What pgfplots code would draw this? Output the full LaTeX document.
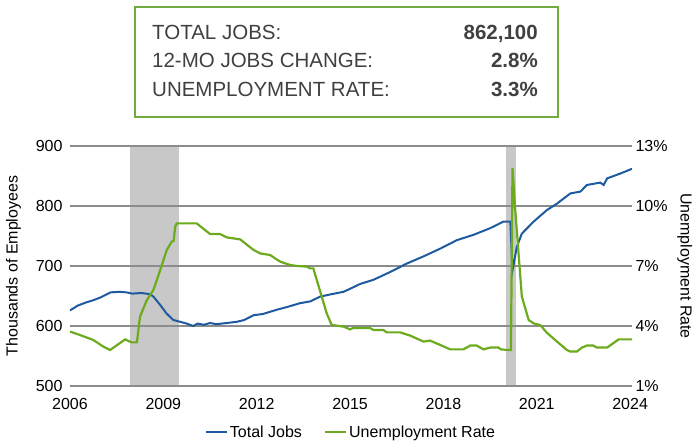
\documentclass[border=0pt]{standalone}
\usepackage{pgfplots}
\pgfplotsset{compat=1.18}
\usepackage{fontspec}
\setmainfont{Liberation Sans}
\definecolor{jobblue}{HTML}{1E5AA0}
\definecolor{ugreen}{HTML}{6CAA1E}
\definecolor{boxgreen}{HTML}{6FAB3F}
\definecolor{gridgray}{HTML}{8C8C8C}
\definecolor{txtgray}{HTML}{404040}
\definecolor{shade}{HTML}{C8C8C8}
\pgfplotsset{
  base/.style={
    scale only axis, width=562pt, height=240pt,
    at={(0,0)}, anchor=south west,
    xmin=2006, xmax=2024.06,
    /pgf/number format/assume math mode=true,
    tick label style={font=\fontsize{16}{19}\selectfont},
    label style={font=\fontsize{16}{19}\selectfont},
    axis line style={draw=none},
    tick style={draw=none},
    major tick length=0pt,
    xtick={2006,2009,2012,2015,2018,2021,2024},
    xticklabels={2006,2009,2012,2015,2018,2021,2024},
    xticklabel style={yshift=-9pt},
    yticklabel style={xshift=-4pt},
  }
}
\begin{document}
\begin{tikzpicture}
% recession shading
\begin{axis}[base, ymin=500, ymax=900, hide axis]
\addplot[fill=shade, draw=none] coordinates {(2007.92,500) (2009.5,500) (2009.5,900) (2007.92,900)} -- cycle;
\addplot[fill=shade, draw=none] coordinates {(2020.0,500) (2020.33,500) (2020.33,900) (2020.0,900)} -- cycle;
\end{axis}
% jobs
\begin{axis}[base, ymin=500, ymax=900, ytick={500,600,700,800,900},
  ymajorgrids, grid style={gridgray, line width=1.1pt},
  ylabel={Thousands of Employees}, ylabel shift=8pt,
  axis y line*=left]
\addplot[jobblue, line width=2pt] coordinates {
(2006.0,626) (2006.25,634) (2006.5,639) (2006.75,643) (2007.0,648) (2007.3,656)
(2007.6,657) (2007.82,656) (2008.0,654) (2008.3,655) (2008.57,653) (2008.68,649)
(2008.9,635) (2009.1,621) (2009.32,610) (2009.54,607) (2009.75,604) (2009.96,600)
(2010.1,604) (2010.3,602) (2010.5,605) (2010.7,603) (2011.04,605) (2011.36,607)
(2011.6,610) (2011.9,618) (2012.2,620) (2012.64,627) (2013.0,632) (2013.39,638)
(2013.72,641) (2014.04,649) (2014.4,653) (2014.79,657) (2015.0,662) (2015.32,670)
(2015.75,677) (2016.29,690) (2016.82,704) (2017.36,716) (2017.9,729) (2018.43,743)
(2018.97,752) (2019.5,763) (2019.93,774) (2020.15,774) (2020.22,693) (2020.36,732)
(2020.52,754) (2020.9,774) (2021.32,793) (2021.65,804) (2022.08,821) (2022.4,824)
(2022.61,835) (2023.04,839) (2023.15,835) (2023.26,846) (2023.68,854) (2024.06,862)
};
\end{axis}
% unemployment
\begin{axis}[base, ymin=1, ymax=13, ytick={1,4,7,10,13},
  yticklabels={1\%,4\%,7\%,10\%,13\%},
  yticklabel style={xshift=4pt},
  axis y line*=right, axis x line=none,
  ylabel={Unemployment Rate}, ylabel shift=3pt,
  ylabel style={rotate=180},
  legend style={at={(0.5,-0.1917)}, anchor=center, legend columns=2, draw=none, fill=none,
    font=\fontsize{16}{19}\selectfont, inner sep=0pt,
    /tikz/every even column/.append style={column sep=20pt}},
  legend cell align=left,
  legend image code/.code={\draw[#1] (0pt,0pt) -- (21pt,0pt);}]
\addlegendimage{jobblue, line width=2pt}
\addlegendentry{Total Jobs}
\addplot[ugreen, line width=2.2pt] coordinates {
(2006.0,3.72) (2006.32,3.55) (2006.75,3.3) (2007.07,2.97) (2007.29,2.8) (2007.77,3.33)
(2007.98,3.18) (2008.15,3.18) (2008.25,4.47) (2008.47,5.3) (2008.68,5.8) (2008.9,6.8)
(2009.11,7.8) (2009.27,8.22) (2009.33,8.25) (2009.38,8.97) (2009.43,9.13) (2010.07,9.13)
(2010.5,8.6) (2010.82,8.6) (2011.04,8.43) (2011.47,8.33) (2011.9,7.8) (2012.11,7.63)
(2012.43,7.55) (2012.75,7.22) (2013.07,7.05) (2013.3,7.0) (2013.61,6.97) (2013.72,6.88)
(2013.82,6.88) (2014.25,4.63) (2014.41,4.05) (2014.79,3.97) (2015.0,3.83) (2015.1,3.9)
(2015.64,3.9) (2015.75,3.8) (2016.07,3.8) (2016.18,3.68) (2016.61,3.68) (2016.93,3.52)
(2017.36,3.22) (2017.57,3.27) (2017.9,3.05) (2018.22,2.83) (2018.64,2.83) (2018.86,3.02)
(2019.07,3.02) (2019.29,2.83) (2019.5,2.92) (2019.77,2.92) (2019.85,2.83) (2020.09,2.8)
(2020.17,2.8) (2020.22,11.9) (2020.3,9.97) (2020.52,5.47) (2020.74,4.3) (2020.9,4.13)
(2021.11,4.05) (2021.32,3.67) (2021.65,3.22) (2021.97,2.8) (2022.08,2.72) (2022.29,2.72)
(2022.45,2.92) (2022.61,3.02) (2022.82,3.02) (2022.93,2.92) (2023.26,2.92) (2023.63,3.33)
(2024.06,3.33)
};
\addlegendentry{Unemployment Rate}
\end{axis}
% info box
\draw[boxgreen, line width=2.5pt] (65pt,269pt) rectangle (488pt,379pt);
\begin{scope}[every node/.style={inner sep=0pt, text=txtgray, font=\fontsize{20.5}{24}\selectfont}]
\node[anchor=base west] at (82pt,346pt) {TOTAL JOBS:};
\node[anchor=base west] at (82pt,318pt) {12-MO JOBS CHANGE:};
\node[anchor=base west] at (82pt,289pt) {UNEMPLOYMENT RATE:};
\node[anchor=base east, font=\fontsize{20.5}{24}\selectfont\bfseries] at (468pt,346pt) {862,100};
\node[anchor=base east, font=\fontsize{20.5}{24}\selectfont\bfseries] at (468pt,318pt) {2.8\%};
\node[anchor=base east, font=\fontsize{20.5}{24}\selectfont\bfseries] at (468pt,289pt) {3.3\%};
\end{scope}
\pgfresetboundingbox
\path[use as bounding box] (-70pt,-58pt) rectangle (627pt,386pt);
\end{tikzpicture}
\end{document}
